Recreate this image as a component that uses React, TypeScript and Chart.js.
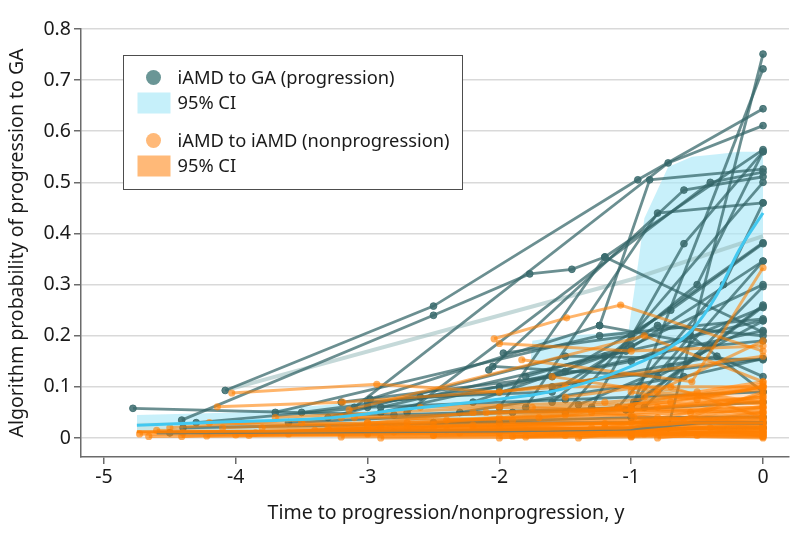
import React, { useEffect, useRef } from "react";
import { Chart, registerables } from "chart.js";

Chart.register(...registerables);

type Pt = [number, number];

// ---------- axis ticks ----------
const xTickValues = [-5, -4, -3, -2, -1, 0];
const xTickLabels = ["-5", "-4", "-3", "-2", "-1", "0"];
const yTickValues = [0, 0.1, 0.2, 0.3, 0.4, 0.5, 0.6, 0.7, 0.8];
const yTickLabels = ["0", "0.1", "0.2", "0.3", "0.4", "0.5", "0.6", "0.7", "0.8"];

const xTitle = "Time to progression/nonprogression, y";
const yTitle = "Algorithm probability of progression to GA";

// ---------- smoothed means + 95% CI ----------
const ciTimes = [-4.75, -4.0, -3.3, -2.76, -2.1, -1.78, -1.75, -1.5, -1.2, -1.02, -0.97, -0.9, -0.72, -0.54, -0.35, -0.18, 0];
const gaMean = [0.025, 0.032, 0.039, 0.055, 0.073, 0.083, 0.084, 0.097, 0.12, 0.138, 0.144, 0.152, 0.175, 0.211, 0.28, 0.368, 0.44];
const gaUpper = [0.045, 0.05, 0.065, 0.08, 0.1, 0.105, 0.19, 0.2, 0.205, 0.21, 0.3, 0.43, 0.53, 0.55, 0.555, 0.56, 0.56];
const gaLower = [0.012, 0.014, 0.018, 0.022, 0.028, 0.032, 0.033, 0.038, 0.048, 0.056, 0.058, 0.062, 0.075, 0.09, 0.1, 0.105, 0.11];
const nonMean = [0.012, 0.013, 0.014, 0.015, 0.016, 0.017, 0.017, 0.018, 0.019, 0.02, 0.022, 0.024, 0.027, 0.03, 0.03, 0.03, 0.03];
const nonUpper = [0.03, 0.032, 0.035, 0.038, 0.042, 0.044, 0.045, 0.047, 0.05, 0.052, 0.08, 0.09, 0.095, 0.1, 0.1, 0.1, 0.1];
const nonLower = [0.003, 0.003, 0.003, 0.003, 0.003, 0.003, 0.003, 0.003, 0.003, 0.003, 0.003, 0.003, 0.004, 0.004, 0.004, 0.004, 0.004];

// ---------- individual eyes: iAMD to GA (progression) ----------
const gaTrajectories: Pt[][] = [
  [[-0.72, 0.02], [0, 0.751]],
  [[-1.0, 0.055], [0, 0.722]],
  [[-4.08, 0.093], [-2.5, 0.258], [-0.95, 0.505], [0, 0.644]],
  [[-3.1, 0.06], [-0.72, 0.538], [0, 0.611]],
  [[-4.41, 0.035], [-2.5, 0.24], [-1.77, 0.321], [-1.45, 0.33], [-1.2, 0.354], [0, 0.564]],
  [[-1.6, 0.07], [-0.5, 0.3], [0, 0.56]],
  [[-2.98, 0.076], [-1.24, 0.22], [-0.86, 0.505], [0, 0.526]],
  [[-2.08, 0.133], [-0.6, 0.485], [0, 0.511]],
  [[-1.1, 0.06], [-0.3, 0.3], [0, 0.46]],
  [[-1.97, 0.166], [-1.0, 0.2], [0, 0.382]],
  [[-2.9, 0.06], [-1.04, 0.17], [0, 0.346]],
  [[-0.9, 0.06], [0, 0.296]],
  [[-4.78, 0.058], [-2.8, 0.045], [-1.0, 0.06], [0, 0.257]],
  [[-3.7, 0.05], [-1.24, 0.2], [0, 0.233]],
  [[-2.05, 0.14], [-0.8, 0.12], [0, 0.229]],
  [[-2.0, 0.06], [-1.2, 0.354], [0, 0.207]],
  [[-2.3, 0.05], [-0.6, 0.12], [0, 0.155]],
  [[-3.3, 0.04], [-1.5, 0.16], [0, 0.153]],
  [[-1.04, 0.055], [0, 0.07]],
  [[-2.5, 0.03], [-1.0, 0.04], [0, 0.041]],
  [[-4.4, 0.02], [-2.0, 0.03], [0, 0.03]],
  [[-4.5, 0.01], [-3.0, 0.012], [0, 0.02]],
  [[-1.24, 0.22], [-0.4, 0.18], [0, 0.19]],
  [[-3.2, 0.07], [-1.6, 0.12], [0, 0.21]],
  [[-1.5, 0.05], [0, 0.5]],
  [[-1.3, 0.06], [-0.6, 0.38], [0, 0.56]],
  [[-2.7, 0.05], [-0.4, 0.5], [0, 0.52]],
  [[-1.8, 0.06], [-0.8, 0.44], [0, 0.46]],
  [[-0.98, 0.07], [-0.55, 0.2], [0, 0.09]],
  [[-1.6, 0.1], [-0.35, 0.16], [0, 0.12]],
  [[-3.0, 0.07], [-2.0, 0.09], [0, 0.155]],
  [[-3.6, 0.03], [-1.9, 0.05], [-1.04, 0.055], [-0.5, 0.16], [0, 0.26]],
  [[-2.9, 0.05], [-1.5, 0.13], [-0.7, 0.25], [0, 0.38]],
  [[-2.2, 0.07], [-1.2, 0.16], [0, 0.23]],
  [[-3.5, 0.05], [-2.0, 0.1], [-1.0, 0.15], [0, 0.255]],
  [[-1.8, 0.12], [-1.0, 0.18], [0, 0.3]],
  [[-2.6, 0.08], [-1.6, 0.09], [-0.8, 0.22], [0, 0.2]],
  [[-1.4, 0.065], [-0.7, 0.14], [0, 0.346]],
  [[-4.3, 0.03], [-3.0, 0.06], [-1.5, 0.075], [0, 0.09]],
];
const gaFaded: Pt[] = [[-4.08, 0.093], [-1.0, 0.31], [0, 0.395]];
const gaLowThick: Pt[] = [[-4.6, 0.01], [-2.0, 0.014], [-1.0, 0.018], [-0.5, 0.03], [0, 0.03]];

// ---------- individual eyes: iAMD to iAMD (nonprogression) ----------
const nonTrajectories: Pt[][] = [
  [[-2.04, 0.194], [-1.49, 0.235], [-1.08, 0.26], [0, 0.17]],
  [[-2.0, 0.185], [-1.0, 0.17], [0, 0.18]],
  [[-1.83, 0.153], [-0.54, 0.11], [0, 0.333]],
  [[-4.03, 0.088], [-2.93, 0.105], [-2.0, 0.09], [0, 0.16]],
  [[-4.14, 0.061], [-3.19, 0.07], [-1.5, 0.1], [0, 0.1]],
  [[-3.14, 0.055], [-0.9, 0.2], [0, 0.11]],
  [[-4.73, 0.008], [-3.0, 0.01], [-1.0, 0.015], [0, 0.02]],
  [[-4.66, 0.003], [-2.5, 0.006], [0, 0.01]],
  [[-4.41, 0.003], [-3.0, 0.02], [0, 0.04]],
  [[-4.22, 0.004], [-2.0, 0.01], [0, 0.005]],
  [[-3.85, 0.01], [-2.9, 0.02], [-1.0, 0.03], [0, 0.05]],
  [[-3.9, 0.005], [-2.7, 0.03], [0, 0.06]],
  [[-3.6, 0.008], [-2.0, 0.04], [0, 0.08]],
  [[-3.3, 0.02], [-2.2, 0.05], [-1.0, 0.06], [0, 0.1]],
  [[-2.5, 0.005], [-1.0, 0.01], [0, 0.03]],
  [[-2.0, 0.0], [-0.8, 0.02], [0, 0.09]],
  [[-1.9, 0.003], [-1.0, 0.005], [0, 0.0]],
  [[-1.0, 0.003], [-0.6, 0.01], [0, 0.015]],
  [[-0.8, 0.0], [0, 0.02]],
  [[-3.0, 0.03], [-1.5, 0.045], [0, 0.105]],
  [[-4.5, 0.02], [-3.2, 0.04], [0, 0.06]],
  [[-2.6, 0.06], [-1.2, 0.07], [0, 0.095]],
  [[-1.5, 0.08], [-0.9, 0.1], [0, 0.07]],
  [[-0.7, 0.1], [0, 0.04]],
  [[-1.2, 0.02], [-0.55, 0.05], [0, 0.085]],
  [[-2.3, 0.01], [-1.3, 0.02], [0, 0.035]],
  [[-3.5, 0.03], [-2.5, 0.025], [0, 0.012]],
  [[-4.1, 0.02], [-3.0, 0.03], [-2.0, 0.03], [0, 0.025]],
  [[-1.1, 0.06], [-0.5, 0.09], [0, 0.11]],
  [[-1.7, 0.04], [0, 0.075]],
  [[-2.8, 0.012], [-1.8, 0.015], [0, 0.008]],
  [[-0.98, 0.04], [0, 0.003]],
  [[-1.4, 0.0], [0, 0.045]],
  [[-0.5, 0.005], [0, 0.002]],
  [[-2.2, 0.02], [-0.9, 0.03], [0, 0.06]],
  [[-1.6, 0.12], [-0.8, 0.09], [0, 0.065]],
  [[-0.9, 0.08], [0, 0.19]],
  [[-3.7, 0.04], [-2.0, 0.06], [0, 0.05]],
  [[-4.2, 0.03], [-2.5, 0.02], [0, 0.018]],
  [[-1.3, 0.05], [-0.8, 0.04], [0, 0.03]],
  [[-4.6, 0.015], [-3.6, 0.01], [-1.6, 0.012], [0, 0.01]],
  [[-2.9, 0.0], [-1.0, 0.002], [0, 0.004]],
  [[-1.75, 0.06], [-0.7, 0.07], [0, 0.1]],
  [[-4.0, 0.006], [-3.0, 0.008], [-2.0, 0.01], [-1.0, 0.012], [0, 0.014]],
  [[-3.4, 0.015], [-2.0, 0.018], [0, 0.022]],
  [[-3.2, 0.002], [-1.5, 0.005], [0, 0.007]],
  [[-2.7, 0.02], [-1.2, 0.028], [0, 0.03]],
  [[-2.4, 0.035], [-1.0, 0.045], [0, 0.055]],
  [[-1.8, 0.002], [-0.9, 0.008], [0, 0.012]],
  [[-1.2, 0.01], [-0.4, 0.02], [0, 0.025]],
  [[-3.8, 0.02], [-2.4, 0.015], [-1.2, 0.02], [0, 0.02]],
  [[-4.4, 0.01], [-3.3, 0.015], [-2.2, 0.025], [0, 0.035]],
  [[-0.6, 0.03], [0, 0.05]],
  [[-2.1, 0.05], [-1.0, 0.055], [0, 0.08]],
  [[-1.0, 0.09], [-0.5, 0.075], [0, 0.1]],
  [[-3.1, 0.04], [-1.9, 0.035], [0, 0.04]],
  [[-0.8, 0.06], [0, 0.07]],
];

// ---------- colours ----------
const tealLine = "rgba(50,100,102,0.72)";
const tealPoint = "rgba(60,108,110,0.85)";
const tealFaded = "rgba(150,185,185,0.55)";
const orangeLine = "rgba(255,128,0,0.58)";
const orangePoint = "rgba(255,128,0,0.62)";
const cyanMean = "rgb(66,200,240)";
const cyanBand = "rgba(170,232,248,0.65)";
const orangeBand = "rgba(255,190,130,0.45)";
const legendTeal = "rgb(106,150,150)";
const legendCyan = "rgb(198,240,250)";
const legendOrange = "rgb(255,185,120)";
const textColor = "#1a1a1a";
const axisColor = "#6b6b6b";
const gridColor = "#d9d9d9";

const FONT = '"Noto Sans", "DejaVu Sans", sans-serif';

const toXY = (pts: Pt[]) => pts.map(([x, y]) => ({ x, y }));
const zipXY = (xs: number[], ys: number[]) => xs.map((x, i) => ({ x, y: ys[i] }));

const overlayPlugin = {
  id: "overlay",
  afterDraw(chart: any) {
    const ctx = chart.ctx as CanvasRenderingContext2D;
    const area = chart.chartArea;
    ctx.save();
    ctx.fillStyle = textColor;
    ctx.font = `19.5px ${FONT}`;
    // x title
    ctx.textAlign = "center";
    ctx.textBaseline = "middle";
    ctx.fillText(xTitle, area.left + 365, area.bottom + 56);
    // y title
    ctx.save();
    ctx.translate(17, (area.top + area.bottom) / 2);
    ctx.rotate(-Math.PI / 2);
    ctx.fillText(yTitle, 0, 0);
    ctx.restore();

    // legend box
    const bx = area.left + 42.5;
    const by = area.top + 26.5;
    const bw = 339;
    const bh = 134;
    ctx.fillStyle = "#ffffff";
    ctx.fillRect(bx, by, bw, bh);
    ctx.strokeStyle = "#4d4d4d";
    ctx.lineWidth = 1;
    ctx.strokeRect(bx, by, bw, bh);

    ctx.font = `18.3px ${FONT}`;
    const tx = bx + 54;
    const items = [
      { kind: "dot", color: legendTeal, label: "iAMD to GA (progression)", y: by + 22 },
      { kind: "rect", color: legendCyan, label: "95% CI", y: by + 47 },
      { kind: "dot", color: legendOrange, label: "iAMD to iAMD (nonprogression)", y: by + 85 },
      { kind: "rect", color: legendOrange, label: "95% CI", y: by + 110 },
    ];
    ctx.textAlign = "left";
    ctx.textBaseline = "middle";
    for (const it of items) {
      ctx.fillStyle = it.color;
      if (it.kind === "dot") {
        ctx.beginPath();
        ctx.arc(bx + 30, it.y, 7.5, 0, Math.PI * 2);
        ctx.fill();
      } else {
        ctx.fillRect(bx + 14, it.y - 10, 33, 21);
      }
      ctx.fillStyle = textColor;
      ctx.fillText(it.label, tx, it.y + 1);
    }
    ctx.restore();
  },
};

export default function App() {
  const canvasRef = useRef<HTMLCanvasElement | null>(null);

  useEffect(() => {
    document.body.style.margin = "0";
    const canvas = canvasRef.current;
    if (!canvas) return;
    Chart.defaults.font.family = FONT;

    const datasets: any[] = [];

    datasets.push({
      label: "nonUpper",
      data: zipXY(ciTimes, nonUpper),
      borderWidth: 0,
      pointRadius: 0,
      backgroundColor: orangeBand,
      fill: "+1",
      order: 200,
    });
    datasets.push({
      label: "nonLower",
      data: zipXY(ciTimes, nonLower),
      borderWidth: 0,
      pointRadius: 0,
      fill: false,
      order: 201,
    });
    datasets.push({
      label: "gaUpper",
      data: zipXY(ciTimes, gaUpper),
      borderWidth: 0,
      pointRadius: 0,
      backgroundColor: cyanBand,
      fill: "+1",
      order: 198,
    });
    datasets.push({
      label: "gaLower",
      data: zipXY(ciTimes, gaLower),
      borderWidth: 0,
      pointRadius: 0,
      fill: false,
      order: 199,
    });

    datasets.push({
      label: "gaFaded",
      data: toXY(gaFaded),
      borderColor: tealFaded,
      borderWidth: 4,
      pointRadius: 0,
      order: 150,
    });

    gaTrajectories.forEach((traj, i) => {
      datasets.push({
        label: "ga" + i,
        data: toXY(traj),
        borderColor: tealLine,
        borderWidth: 2.8,
        pointRadius: 3.4,
        pointBackgroundColor: tealPoint,
        pointBorderColor: tealPoint,
        pointBorderWidth: 1,
        order: 120,
      });
    });

    nonTrajectories.forEach((traj, i) => {
      datasets.push({
        label: "non" + i,
        data: toXY(traj),
        borderColor: orangeLine,
        borderWidth: 3,
        pointRadius: 3.6,
        pointBackgroundColor: orangePoint,
        pointBorderColor: orangePoint,
        pointBorderWidth: 0,
        order: 100,
      });
    });

    datasets.push({
      label: "gaLowThick",
      data: toXY(gaLowThick),
      borderColor: "rgba(110,125,110,0.85)",
      borderWidth: 3.5,
      pointRadius: 0,
      order: 50,
    });

    datasets.push({
      label: "nonMean",
      data: zipXY(ciTimes, nonMean),
      borderColor: "rgba(255,128,0,0.9)",
      borderWidth: 3,
      pointRadius: 0,
      cubicInterpolationMode: "monotone",
      order: 20,
    });
    datasets.push({
      label: "gaMean",
      data: zipXY(ciTimes, gaMean),
      borderColor: cyanMean,
      borderWidth: 3,
      pointRadius: 0,
      cubicInterpolationMode: "monotone",
      order: 10,
    });

    datasets.forEach((d) => {
      d.showLine = true;
    });

    const chart = new Chart(canvas, {
      type: "scatter",
      data: { datasets },
      options: {
        animation: false,
        responsive: false,
        devicePixelRatio: 1,
        layout: { padding: { top: 29, right: 4, left: 0, bottom: 0 } },
        plugins: {
          legend: { display: false },
          tooltip: { enabled: false },
        },
        scales: {
          x: {
            type: "linear",
            min: -5.174,
            max: 0.197,
            afterFit: (scale: any) => {
              scale.height = 85;
            },
            afterBuildTicks: (scale: any) => {
              scale.ticks = xTickValues.map((v) => ({ value: v }));
            },
            ticks: {
              color: textColor,
              font: { size: 19.5, family: FONT },
              padding: 2,
              maxRotation: 0,
              autoSkip: false,
              callback: (v: any) => {
                const i = xTickValues.indexOf(Number(v));
                return i >= 0 ? xTickLabels[i] : "";
              },
            },
            grid: {
              display: true,
              drawOnChartArea: false,
              drawTicks: true,
              tickLength: 7,
              tickColor: axisColor,
              lineWidth: 1.5,
            },
            border: { display: true, color: axisColor, width: 1.5 },
          },
          y: {
            type: "linear",
            min: -0.0372,
            max: 0.8,
            afterFit: (scale: any) => {
              scale.width = 81;
            },
            afterBuildTicks: (scale: any) => {
              scale.ticks = yTickValues.map((v) => ({ value: v }));
            },
            ticks: {
              color: textColor,
              font: { size: 19.5, family: FONT },
              padding: 3,
              autoSkip: false,
              callback: (v: any) => {
                const i = yTickValues.findIndex((t) => Math.abs(t - Number(v)) < 1e-9);
                return i >= 0 ? yTickLabels[i] : "";
              },
            },
            grid: {
              display: true,
              drawOnChartArea: true,
              drawTicks: true,
              tickLength: 7,
              color: gridColor,
              tickColor: axisColor,
              lineWidth: 1.5,
            },
            border: { display: true, color: axisColor, width: 1.5 },
          },
        },
      },
      plugins: [overlayPlugin],
    });

    return () => {
      chart.destroy();
    };
  }, []);

  return (
    <div style={{ width: 794, height: 542, position: "relative" }}>
      <canvas ref={canvasRef} width={794} height={542} style={{ display: "block", width: 794, height: 542 }} />
    </div>
  );
}
